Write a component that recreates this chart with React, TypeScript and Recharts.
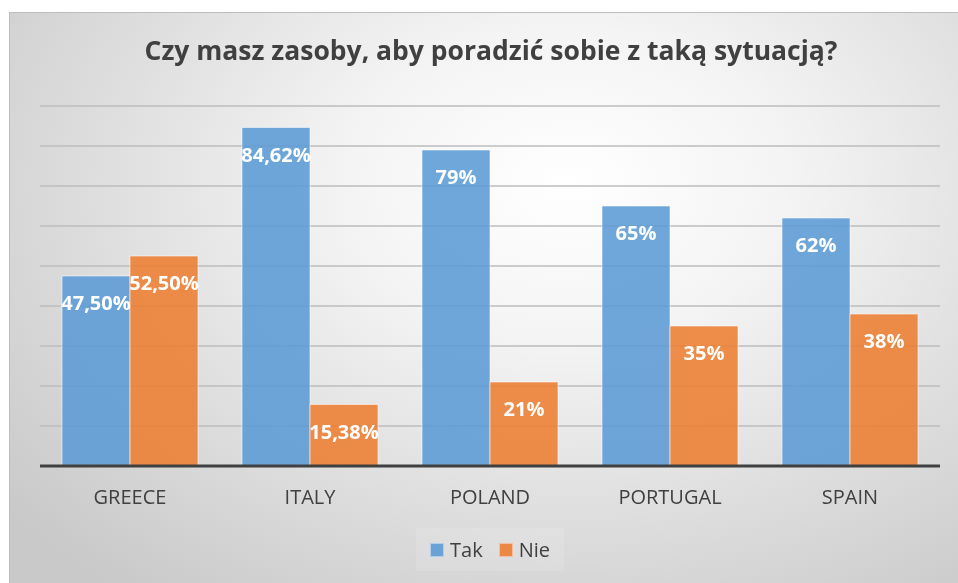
import { Bar, BarChart, CartesianGrid, LabelList, Legend, XAxis, YAxis } from "recharts";

const countries = ["GREECE", "ITALY", "POLAND", "PORTUGAL", "SPAIN"];
const takValues = [47.5, 84.62, 79, 65, 62];
const nieValues = [52.5, 15.38, 21, 35, 38];
const takLabels = ["47,50%", "84,62%", "79%", "65%", "62%"];
const nieLabels = ["52,50%", "15,38%", "21%", "35%", "38%"];
const yTicks = [0, 10, 20, 30, 40, 50, 60, 70, 80, 90];

const FONT = "'Open Sans', sans-serif";
const TEXT = "#404040";
const BLUE = "#5B9BD5";
const ORANGE = "#ED7D31";

const data = countries.map((name, i) => ({
  name,
  tak: takValues[i],
  nie: nieValues[i],
  takLabel: takLabels[i],
  nieLabel: nieLabels[i],
}));

function LegendBox() {
  const items = [
    { label: "Tak", color: BLUE },
    { label: "Nie", color: ORANGE },
  ];
  return (
    <div style={{ display: "flex", justifyContent: "center" }}>
      <div
        style={{
          display: "flex",
          alignItems: "center",
          height: 43,
          padding: "0 14px",
          background: "rgba(255,255,255,0.12)",
          fontFamily: FONT,
          fontSize: 20,
          color: TEXT,
        }}
      >
        {items.map((it, i) => (
          <div key={it.label} style={{ display: "flex", alignItems: "center", marginLeft: i ? 16 : 0 }}>
            <span
              style={{
                width: 12,
                height: 12,
                background: it.color,
                opacity: 0.88,
                border: "1px solid rgba(255,255,255,0.5)",
                marginRight: 6,
              }}
            />
            <span>{it.label}</span>
          </div>
        ))}
      </div>
    </div>
  );
}

export default function App() {
  return (
    <div
      style={{
        position: "fixed",
        left: 9,
        top: 12,
        width: 949,
        height: 571,
        overflow: "hidden",
        borderTop: "1px solid #bdbdbd",
        borderLeft: "1px solid #bdbdbd",
        boxSizing: "border-box",
      }}
    >
      <div
        style={{
          position: "relative",
          width: 962,
          height: 571,
          background:
            "radial-gradient(ellipse 75% 90% at 58% 30%, #ffffff 0%, #f4f4f4 30%, #dedede 65%, #c9c9c9 100%)",
        }}
      >
        <div
          style={{
            position: "absolute",
            top: 20,
            left: 0,
            width: 962,
            textAlign: "center",
            fontFamily: FONT,
            fontWeight: 700,
            fontSize: 26.5,
            lineHeight: "34px",
            color: TEXT,
          }}
        >
          Czy masz zasoby, aby poradzić sobie z taką sytuacją?
        </div>
        <BarChart
          width={962}
          height={571}
          data={data}
          margin={{ top: 93, right: 32, left: 30, bottom: 13 }}
          barCategoryGap={22}
          barGap={0}
          style={{ position: "absolute", top: 0, left: 0 }}
        >
          <CartesianGrid vertical={false} stroke="#bdbdbd" strokeWidth={1.5} />
          <YAxis hide domain={[0, 90]} ticks={yTicks} />
          <XAxis
            dataKey="name"
            height={62}
            tickLine={false}
            tickSize={0}
            tickMargin={24}
            axisLine={{ stroke: TEXT, strokeWidth: 3 }}
            tick={{ fill: TEXT, fontSize: 20, fontFamily: FONT }}
          />
          <Legend verticalAlign="bottom" content={() => <LegendBox />} />
          <Bar
            dataKey="tak"
            name="Tak"
            fill={BLUE}
            fillOpacity={0.88}
            stroke="rgba(255,255,255,0.55)"
            isAnimationActive={false}
          >
            <LabelList
              dataKey="takLabel"
              position="insideTop"
              offset={20}
              fill="#ffffff"
              style={{ fontFamily: FONT, fontWeight: 700, fontSize: 20 }}
            />
          </Bar>
          <Bar
            dataKey="nie"
            name="Nie"
            fill={ORANGE}
            fillOpacity={0.88}
            stroke="rgba(255,255,255,0.55)"
            isAnimationActive={false}
          >
            <LabelList
              dataKey="nieLabel"
              position="insideTop"
              offset={20}
              fill="#ffffff"
              style={{ fontFamily: FONT, fontWeight: 700, fontSize: 20 }}
            />
          </Bar>
        </BarChart>
      </div>
    </div>
  );
}
